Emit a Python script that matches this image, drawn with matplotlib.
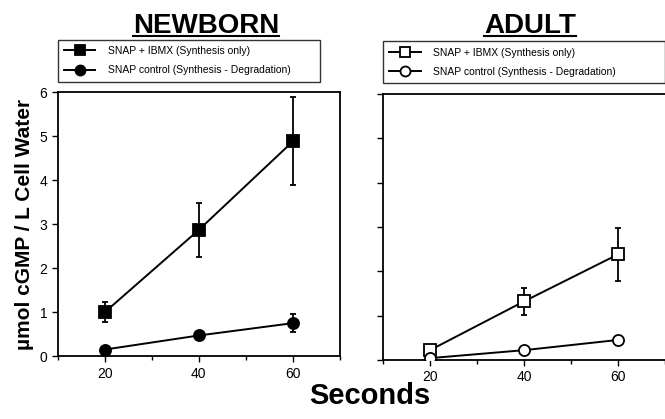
import matplotlib
matplotlib.use("Agg")
import matplotlib.pyplot as plt
from matplotlib.lines import Line2D

plt.rcParams['font.family'] = ['Liberation Sans', 'DejaVu Sans']

seconds = [20, 40, 60]
# newborn
nb_ibmx = [1.0, 2.87, 4.88]
nb_ibmx_err = [0.22, 0.62, 1.0]
nb_ctrl = [0.15, 0.47, 0.75]
nb_ctrl_err = [0.06, 0.08, 0.2]
# adult
ad_ibmx = [0.22, 1.32, 2.38]
ad_ibmx_err = [0.1, 0.3, 0.6]
ad_ctrl = [0.04, 0.22, 0.45]
ad_ctrl_err = [0.03, 0.04, 0.05]

lab_ibmx = "SNAP + IBMX (Synthesis only)"
lab_ctrl = "SNAP control (Synthesis - Degradation)"

fig = plt.figure(figsize=(6.65, 4.19), dpi=100)
ax1 = fig.add_axes([0.087, 0.150, 0.424, 0.630])
ax2 = fig.add_axes([0.576, 0.141, 0.424, 0.635])

def panel(ax, ibmx, ibmx_err, ctrl, ctrl_err, filled):
    fc = 'black' if filled else 'white'
    style = dict(color='black', ms=8, mfc=fc, mec='black', mew=1.3, lw=1.4)
    ax.errorbar(seconds, ibmx, yerr=ibmx_err, marker='s', capsize=2.5,
                elinewidth=1.3, zorder=3, **style)
    ax.errorbar(seconds, ctrl, yerr=ctrl_err, marker='o', capsize=2.5,
                elinewidth=1.3, zorder=3, **style)
    ax.set_xlim(10, 70)
    ax.set_ylim(0, 6)
    ax.set_xticks([20, 40, 60])
    ax.set_xticks([10, 30, 50, 70], minor=True)
    ax.set_yticks(range(0, 7))
    ax.tick_params(direction='out', length=4, width=1, labelsize=10)
    ax.tick_params(which='minor', direction='out', length=3, width=1)
    for s in ax.spines.values():
        s.set_linewidth(1.3)
    handles = [Line2D([], [], marker='s', **style), Line2D([], [], marker='o', **style)]
    leg = ax.legend(handles, [lab_ibmx, lab_ctrl], loc='lower left',
                    bbox_to_anchor=(0, 1.04, 0.93 if filled else 1.0, 0.18),
                    mode='expand', fontsize=7.5, frameon=True, fancybox=False,
                    handlelength=3.0, handletextpad=1.2, markerscale=0.9,
                    borderpad=0.6, labelspacing=0.9, borderaxespad=0)
    leg.get_frame().set_edgecolor('black')
    leg.get_frame().set_linewidth(1.0)

panel(ax1, nb_ibmx, nb_ibmx_err, nb_ctrl, nb_ctrl_err, True)
panel(ax2, ad_ibmx, ad_ibmx_err, ad_ctrl, ad_ctrl_err, False)
ax2.set_yticklabels([])
ax2.spines['right'].set_visible(False)

ax1.set_ylabel("\u00b5mol cGMP / L Cell Water", fontsize=15, fontweight='bold', labelpad=4)
fig.text(370 / 665, 0.035, "Seconds", fontsize=21, fontweight='bold', ha='center', va='baseline')

t1 = fig.text(206 / 665, 0.921, "NEWBORN", fontsize=20, fontweight='bold', ha='center', va='baseline')
t2 = fig.text(530 / 665, 0.921, "ADULT", fontsize=20, fontweight='bold', ha='center', va='baseline')

# underline the titles
r = fig.canvas.get_renderer()
for t in (t1, t2):
    bb = t.get_window_extent(r).transformed(fig.transFigure.inverted())
    fig.add_artist(Line2D([bb.x0, bb.x1], [0.913, 0.913], color='black', lw=1.5,
                          transform=fig.transFigure))

fig.savefig("out.png", dpi=100)
